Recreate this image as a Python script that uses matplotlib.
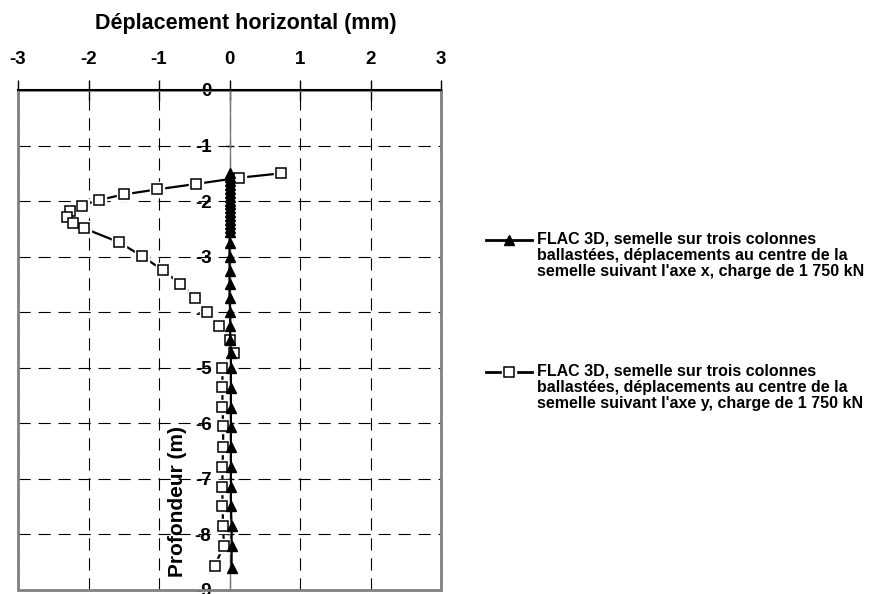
import numpy as np
import matplotlib
matplotlib.use('Agg')
import matplotlib.pyplot as plt
from matplotlib.lines import Line2D
from matplotlib.patches import Rectangle

plt.rcParams['font.family'] = ['Liberation Sans', 'DejaVu Sans']
plt.rcParams['font.weight'] = 'bold'
plt.rcParams['axes.unicode_minus'] = False

# ---- data ----
# FLAC 3D, displacement along x (triangles)
depth_x = [-1.50, -1.57, -1.64, -1.71, -1.78, -1.85, -1.92, -1.99, -2.06, -2.13,
           -2.20, -2.27, -2.34, -2.41, -2.48, -2.55, -2.76, -3.00, -3.25, -3.50,
           -3.75, -4.00, -4.24, -4.50, -4.74, -5.00, -5.37, -5.73, -6.06, -6.42,
           -6.78, -7.14, -7.49, -7.85, -8.21, -8.60]
disp_x = [0.00, 0.00, 0.00, 0.00, 0.00, 0.00, 0.00, 0.00, 0.00, 0.00,
          0.00, 0.00, 0.00, 0.00, 0.00, 0.00, 0.00, 0.00, 0.00, 0.00,
          0.00, 0.01, 0.01, 0.01, 0.02, 0.02, 0.02, 0.02, 0.02, 0.02,
          0.02, 0.02, 0.02, 0.03, 0.03, 0.03]

# FLAC 3D, displacement along y (squares)
depth_y = [-1.50, -1.58, -1.69, -1.79, -1.88, -1.98, -2.08, -2.18, -2.29, -2.39,
           -2.49, -2.74, -2.99, -3.24, -3.49, -3.74, -3.99, -4.24, -4.50, -4.74,
           -5.00, -5.35, -5.70, -6.05, -6.42, -6.78, -7.15, -7.49, -7.85, -8.20,
           -8.57]
disp_y = [0.73, 0.135, -0.47, -1.03, -1.50, -1.85, -2.09, -2.26, -2.31, -2.22,
          -2.06, -1.57, -1.24, -0.95, -0.70, -0.49, -0.32, -0.15, 0.00, 0.06,
          -0.10, -0.10, -0.10, -0.09, -0.09, -0.10, -0.10, -0.10, -0.09, -0.08,
          -0.21]

xticks = [-3, -2, -1, 0, 1, 2, 3]
yticks = [0, -1, -2, -3, -4, -5, -6, -7, -8, -9]

lab_x = "FLAC 3D, semelle sur trois colonnes\nballastées, déplacements au centre de la\nsemelle suivant l'axe x, charge de 1 750 kN"
lab_y = "FLAC 3D, semelle sur trois colonnes\nballastées, déplacements au centre de la\nsemelle suivant l'axe y, charge de 1 750 kN"

W, H = 871, 594
fig = plt.figure(figsize=(W / 100, H / 100), dpi=100)
ax = fig.add_axes([18 / W, 4 / H, 423 / W, 500 / H])

# squares series: line, white halo, then markers
ax.plot(disp_y, depth_y, color='black', lw=1.6, zorder=3)
ax.plot(disp_y, depth_y, ls='none', marker='s', ms=10, mfc='white', mec='white', zorder=4)
ax.plot(disp_y, depth_y, ls='none', marker='s', ms=7.2, mfc='white', mec='black', mew=1.1, zorder=5)
# triangles series
ax.plot(disp_x, depth_x, color='black', lw=1.6, marker='^', ms=7.5, mfc='black', mec='black', zorder=6)

ax.set_xlim(-3, 3)
ax.set_ylim(-9, 0)
ax.set_xticks(xticks)
ax.set_xticklabels([str(v) for v in xticks])
ax.set_yticks(yticks)
ax.set_yticklabels([str(v) for v in yticks])

ax.grid(True, color='black', lw=0.8, ls=(0, (11, 7)))
ax.set_axisbelow(True)

for s in ['right', 'bottom']:
    ax.spines[s].set_visible(False)
ax.spines['top'].set_color('black')
ax.spines['top'].set_linewidth(1.5)
ax.spines['top'].set_zorder(7)
ax.spines['left'].set_position(('data', 0))
ax.spines['left'].set_color('#777777')
ax.spines['left'].set_linewidth(1.0)

# gray frame
ax.add_patch(Rectangle((0, 0), 1, 1, transform=ax.transAxes, fill=False,
                       edgecolor='#808080', lw=2, clip_on=False, zorder=2))

ax.xaxis.tick_top()
ax.tick_params(axis='x', direction='inout', length=14, width=1, labelsize=13.5, pad=9)
ax.tick_params(axis='y', direction='inout', length=6, width=1, labelsize=13.5, pad=10)
for t in ax.get_xticklabels() + ax.get_yticklabels():
    t.set_fontweight('bold')

ax.set_xlabel('Déplacement horizontal (mm)', fontsize=15.5, fontweight='bold')
ax.xaxis.set_label_position('top')
ax.xaxis.set_label_coords((245.7 - 18) / 423, (90 - 29.5) / 500 + 1)

ax.text((177 - 18) / 423, (590 - 501.5) / 500, 'Profondeur (m)', transform=ax.transAxes,
        rotation=90, ha='center', va='center', fontsize=15, fontweight='bold', zorder=8)

# legend drawn beside the plot
def handle(y, marker, mfc):
    x0, x1 = 486 / W, 532 / W
    xm = (x0 + x1) / 2
    yf = 1 - y / H
    fig.add_artist(Line2D([x0, x1], [yf, yf], color='black', lw=2, transform=fig.transFigure))
    if mfc == 'white':
        fig.add_artist(Line2D([xm], [yf], ls='none', marker=marker, ms=10, mfc='white', mec='white',
                              transform=fig.transFigure))
        fig.add_artist(Line2D([xm], [yf], ls='none', marker=marker, ms=7.2, mfc='white', mec='black',
                              mew=1.1, transform=fig.transFigure))
    else:
        fig.add_artist(Line2D([xm], [yf], ls='none', marker=marker, ms=7.5, mfc='black', mec='black',
                              transform=fig.transFigure))

handle(240, '^', 'black')
handle(372, 's', 'white')
fig.text(537 / W, 1 - 232 / H, lab_x, fontsize=11.5, fontweight='bold', va='top', ha='left', linespacing=1.08)
fig.text(537 / W, 1 - 364 / H, lab_y, fontsize=11.5, fontweight='bold', va='top', ha='left', linespacing=1.08)

fig.savefig('out.png', dpi=100)
